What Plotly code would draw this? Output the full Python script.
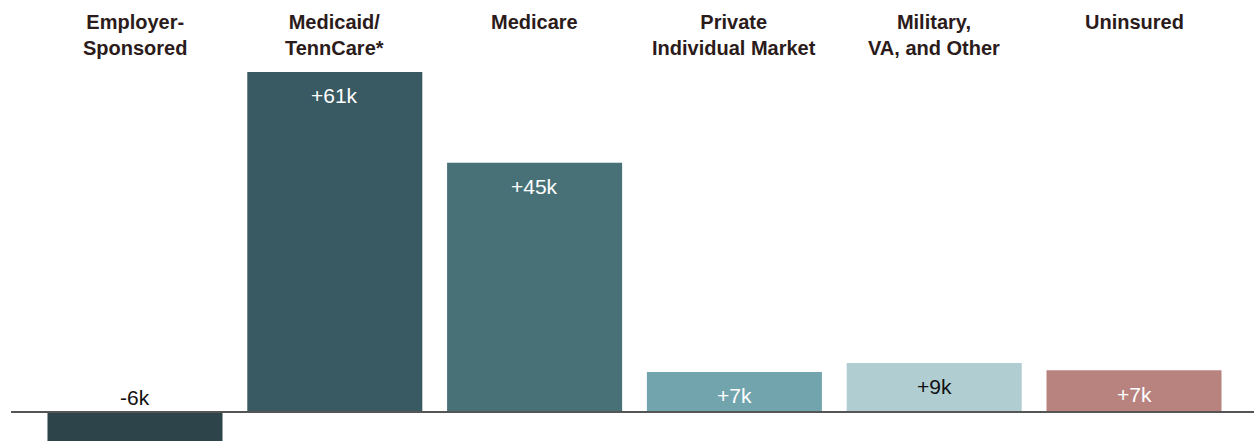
import plotly.graph_objects as go

categories = ["Employer-<br>Sponsored", "Medicaid/<br>TennCare*", "Medicare",
              "Private<br>Individual Market", "Military,<br>VA, and Other", "Uninsured"]
values = [-6, 61, 44.7, 7.2, 8.8, 7.5]
value_labels = ["-6k", "+61k", "+45k", "+7k", "+9k", "+7k"]
bar_colors = ["#2c444a", "#395a62", "#477177", "#72a4ad", "#b0cdd1", "#b8837f"]
label_colors = ["#111111", "#ffffff", "#ffffff", "#ffffff", "#111111", "#ffffff"]

x_idx = list(range(len(categories)))

fig = go.Figure(go.Bar(
    x=x_idx, y=values, marker=dict(color=bar_colors, line=dict(width=0)),
    width=0.876, hoverinfo="skip",
))

annotations = []
for i, (v, lab, col) in enumerate(zip(values, value_labels, label_colors)):
    if v >= 0:
        annotations.append(dict(x=i, y=v, xref="x", yref="y", text=lab, showarrow=False,
                                yanchor="middle", yshift=-24,
                                font=dict(family="Liberation Sans, Arial", size=21, color=col)))
    else:
        annotations.append(dict(x=i, y=0, xref="x", yref="y", text=lab, showarrow=False,
                                yanchor="middle", yshift=15,
                                font=dict(family="Liberation Sans, Arial", size=21, color=col)))

for i, c in enumerate(categories):
    annotations.append(dict(x=i, y=1, xref="x", yref="paper", text="<b>%s</b>" % c,
                            showarrow=False, yanchor="top", yshift=51,
                            font=dict(family="Liberation Sans, Arial", size=20, color="#2b1b1b")))

fig.update_layout(
    width=1254, height=441,
    margin=dict(l=11, r=0, t=60, b=0),
    paper_bgcolor="white", plot_bgcolor="white",
    showlegend=False,
    xaxis=dict(range=[-0.6206, 5.6006], showticklabels=False, showgrid=False,
               zeroline=False, showline=False, fixedrange=True),
    yaxis=dict(range=[-5.2, 63.15], showticklabels=False, showgrid=False,
               zeroline=False, showline=False, fixedrange=True),
    annotations=annotations,
    shapes=[dict(type="line", xref="paper", x0=0, x1=1, yref="y", y0=0, y1=0,
                 line=dict(color="#555555", width=2), layer="above")],
)

fig.write_html("out.html", config={"displayModeBar": False},
               post_script="document.body.style.margin='0';document.body.style.overflow='hidden';")
